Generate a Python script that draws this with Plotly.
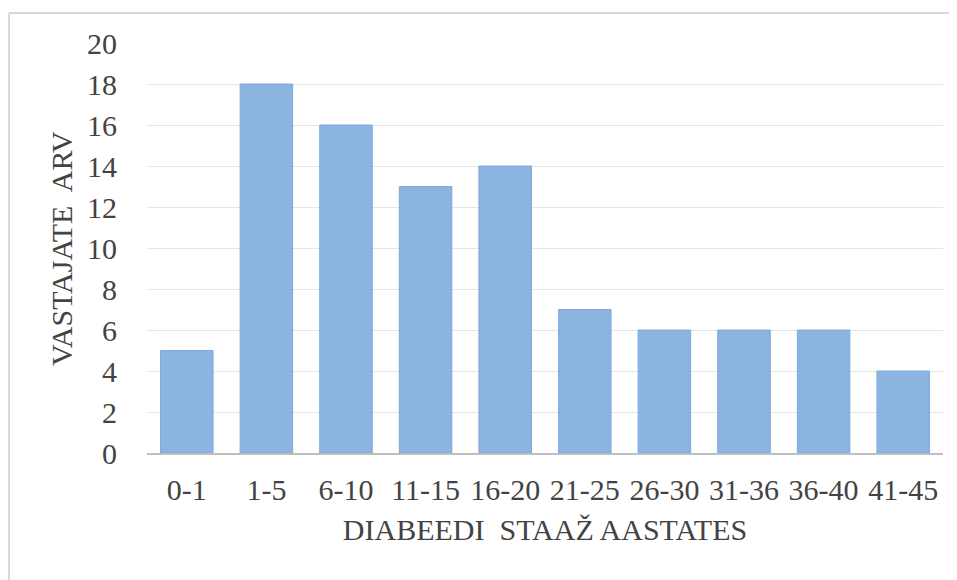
import plotly.graph_objects as go

categories = ["0-1", "1-5", "6-10", "11-15", "16-20", "21-25", "26-30", "31-36", "36-40", "41-45"]
values = [5, 18, 16, 13, 14, 7, 6, 6, 6, 4]
y_ticks = [0, 2, 4, 6, 8, 10, 12, 14, 16, 18, 20]

FONT = "Liberation Serif, Times New Roman, serif"
TXT = "#434343"
FS = 30

fig = go.Figure(go.Bar(
    x=categories, y=values,
    marker=dict(color="#8BB4E1", line=dict(color="#7FA9DA", width=1)),
    width=0.66,
))

# page body has an 8px margin, so the figure is placed at (8, 8)
W, H = 949, 572
L, R, T, B = 139, 14, 35, 127
pw, ph = W - L - R, H - T - B

fig.update_layout(
    width=W, height=H,
    margin=dict(l=L, r=R, t=T, b=B),
    plot_bgcolor="white", paper_bgcolor="white",
    font=dict(family=FONT, color=TXT, size=FS),
    showlegend=False,
    xaxis=dict(
        showgrid=False, showline=True, linecolor="#BFBFBF", linewidth=2,
        ticks="", tickfont=dict(size=FS, family=FONT, color=TXT),
        ticklabelstandoff=9,
        title=dict(text="DIABEEDI  STAAŽ AASTATES", font=dict(size=FS, family=FONT, color=TXT), standoff=14),
    ),
    yaxis=dict(
        range=[0, 20], tickvals=y_ticks, showgrid=True, gridcolor="#E5E5E5", gridwidth=1,
        zeroline=False, ticks="", tickfont=dict(size=FS, family=FONT, color=TXT),
        ticklabelstandoff=29,
    ),
    annotations=[
        dict(text="VASTAJATE  ARV", textangle=-90, xref="paper", yref="paper",
             x=0, y=0.5, xanchor="center", yanchor="middle", xshift=-86, yshift=-1,
             showarrow=False, font=dict(size=FS, family=FONT, color=TXT)),
    ],
    shapes=[
        dict(type="line", xref="paper", yref="paper",
             x0=(1 - L) / pw, x1=(W + 5 - L) / pw, y0=(H - 5 - B) / ph, y1=(H - 5 - B) / ph,
             line=dict(color="#D9D9D9", width=2)),
        dict(type="line", xref="paper", yref="paper",
             x0=(1 - L) / pw, x1=(1 - L) / pw, y0=(H - 5 - B) / ph, y1=-(B + 5) / ph,
             line=dict(color="#D9D9D9", width=2)),
    ],
)

fig.write_html("out.html")
